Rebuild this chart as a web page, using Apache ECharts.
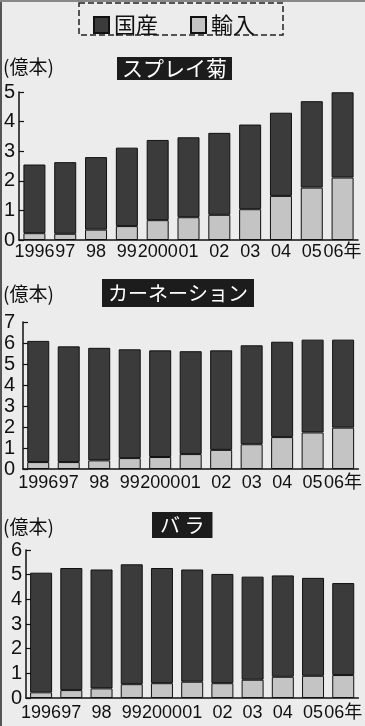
<!DOCTYPE html>
<html>
<head>
<meta charset="utf-8">
<script src="https://cdn.jsdelivr.net/npm/echarts@6/dist/echarts.min.js"></script>
<style>
html,body{margin:0;padding:0;background:#ececec;}
#main{width:365px;height:726px;}
</style>
</head>
<body>
<div id="main"></div>
<script>
// 年
var years = ['1996', '97', '98', '99', '2000', '01', '02', '03', '04', '05', '06年'];

// スプレイ菊 (億本)
var sprayImport   = [0.23, 0.21, 0.35, 0.47, 0.67, 0.77, 0.85, 1.04, 1.49, 1.77, 2.11];
var sprayDomestic = [2.32, 2.42, 2.45, 2.65, 2.71, 2.70, 2.77, 2.86, 2.81, 2.92, 2.88];

// カーネーション
var carnImport   = [0.33, 0.33, 0.41, 0.52, 0.57, 0.71, 0.91, 1.18, 1.52, 1.74, 1.97];
var carnDomestic = [5.77, 5.51, 5.36, 5.18, 5.08, 4.90, 4.74, 4.71, 4.54, 4.42, 4.19];

// バラ
var roseImport   = [0.23, 0.32, 0.39, 0.56, 0.60, 0.66, 0.60, 0.74, 0.86, 0.90, 0.93];
var roseDomestic = [4.85, 4.95, 4.82, 4.86, 4.67, 4.55, 4.43, 4.18, 4.11, 3.97, 3.73];

var yMax = [5, 7, 6];

var numFont = 'Liberation Sans, Arial, Noto Sans CJK JP, sans-serif';
var jpFont = 'Noto Sans CJK JP, sans-serif';
var darkColor = '#3b3b3b';
var lightColor = '#c4c4c4';

var myChart = echarts.init(document.getElementById('main'));

var grids = [
    {left: 19, top: 92, width: 339, height: 148},
    {left: 23, top: 322, width: 338, height: 147},
    {left: 26, top: 550, width: 338, height: 148}
];
var yLabelMargin = [4, 8, 4];
var xLabelMargin = [3, 5, 6];

var xAxes = [], yAxes = [], series = [];
var imports = [sprayImport, carnImport, roseImport];
var domestics = [sprayDomestic, carnDomestic, roseDomestic];

for (var i = 0; i < 3; i++) {
    xAxes.push({
        type: 'category',
        gridIndex: i,
        data: years,
        axisLine: {lineStyle: {color: '#111', width: 1.5}},
        axisTick: {show: false},
        axisLabel: {
            interval: 0,
            hideOverlap: false,
            margin: xLabelMargin[i],
            color: '#111',
            fontSize: 18,
            fontFamily: numFont
        }
    });
    yAxes.push({
        type: 'value',
        gridIndex: i,
        min: 0,
        max: yMax[i],
        interval: 1,
        axisLine: {show: true, lineStyle: {color: '#111', width: 1.5}},
        axisTick: {show: true, inside: true, length: 5, lineStyle: {color: '#111', width: 1.2}},
        splitLine: {show: false},
        axisLabel: {
            margin: yLabelMargin[i],
            color: '#111',
            fontSize: 20,
            fontFamily: numFont
        }
    });
    series.push({
        name: '輸入',
        type: 'bar',
        xAxisIndex: i,
        yAxisIndex: i,
        stack: 'total' + i,
        barWidth: 22,
        data: imports[i],
        itemStyle: {color: lightColor, borderColor: '#111', borderWidth: 1}
    });
    series.push({
        name: '国産',
        type: 'bar',
        xAxisIndex: i,
        yAxisIndex: i,
        stack: 'total' + i,
        barWidth: 22,
        data: domestics[i],
        itemStyle: {color: darkColor, borderColor: '#111', borderWidth: 1}
    });
}

function boxTitle(text, left, top, pad, size) {
    return {
        text: text,
        left: left,
        top: top,
        padding: pad,
        backgroundColor: '#1c1c1c',
        textStyle: {color: '#fff', fontSize: size, fontWeight: 'normal', fontFamily: jpFont, lineHeight: size + 2}
    };
}
function unitTitle(top) {
    return {
        text: '(億本)',
        left: 3,
        top: top,
        padding: 0,
        textStyle: {color: '#111', fontSize: 19, fontWeight: 'normal', fontFamily: jpFont}
    };
}

var option = {
    backgroundColor: '#ececec',
    animation: false,
    title: [
        boxTitle('スプレイ菊', 117, 57, [0, 5], 21),
        boxTitle('カーネーション', 102, 279, [3, 6], 20),
        boxTitle('バ ラ', 152, 512, [2, 8], 20),
        unitTitle(57),
        unitTitle(284),
        unitTitle(517)
    ],
    legend: {
        data: ['国産', '輸入'],
        left: 93,
        top: 14,
        padding: 0,
        icon: 'rect',
        itemWidth: 15,
        itemHeight: 16,
        itemGap: 32,
        selectedMode: false,
        textStyle: {color: '#111', fontSize: 22, fontFamily: jpFont}
    },
    graphic: [
        {type: 'rect', shape: {x: 79, y: 3, width: 204, height: 32}, style: {fill: 'none', stroke: '#222', lineWidth: 1.5, lineDash: [6, 3]}},
        {type: 'line', shape: {x1: 1, y1: 0, x2: 1, y2: 726}, style: {stroke: '#555', lineWidth: 2}},
        {type: 'line', shape: {x1: 0, y1: 1, x2: 365, y2: 1}, style: {stroke: '#888', lineWidth: 2}}
    ],
    grid: grids,
    xAxis: xAxes,
    yAxis: yAxes,
    series: series
};

myChart.setOption(option);
</script>
</body>
</html>
